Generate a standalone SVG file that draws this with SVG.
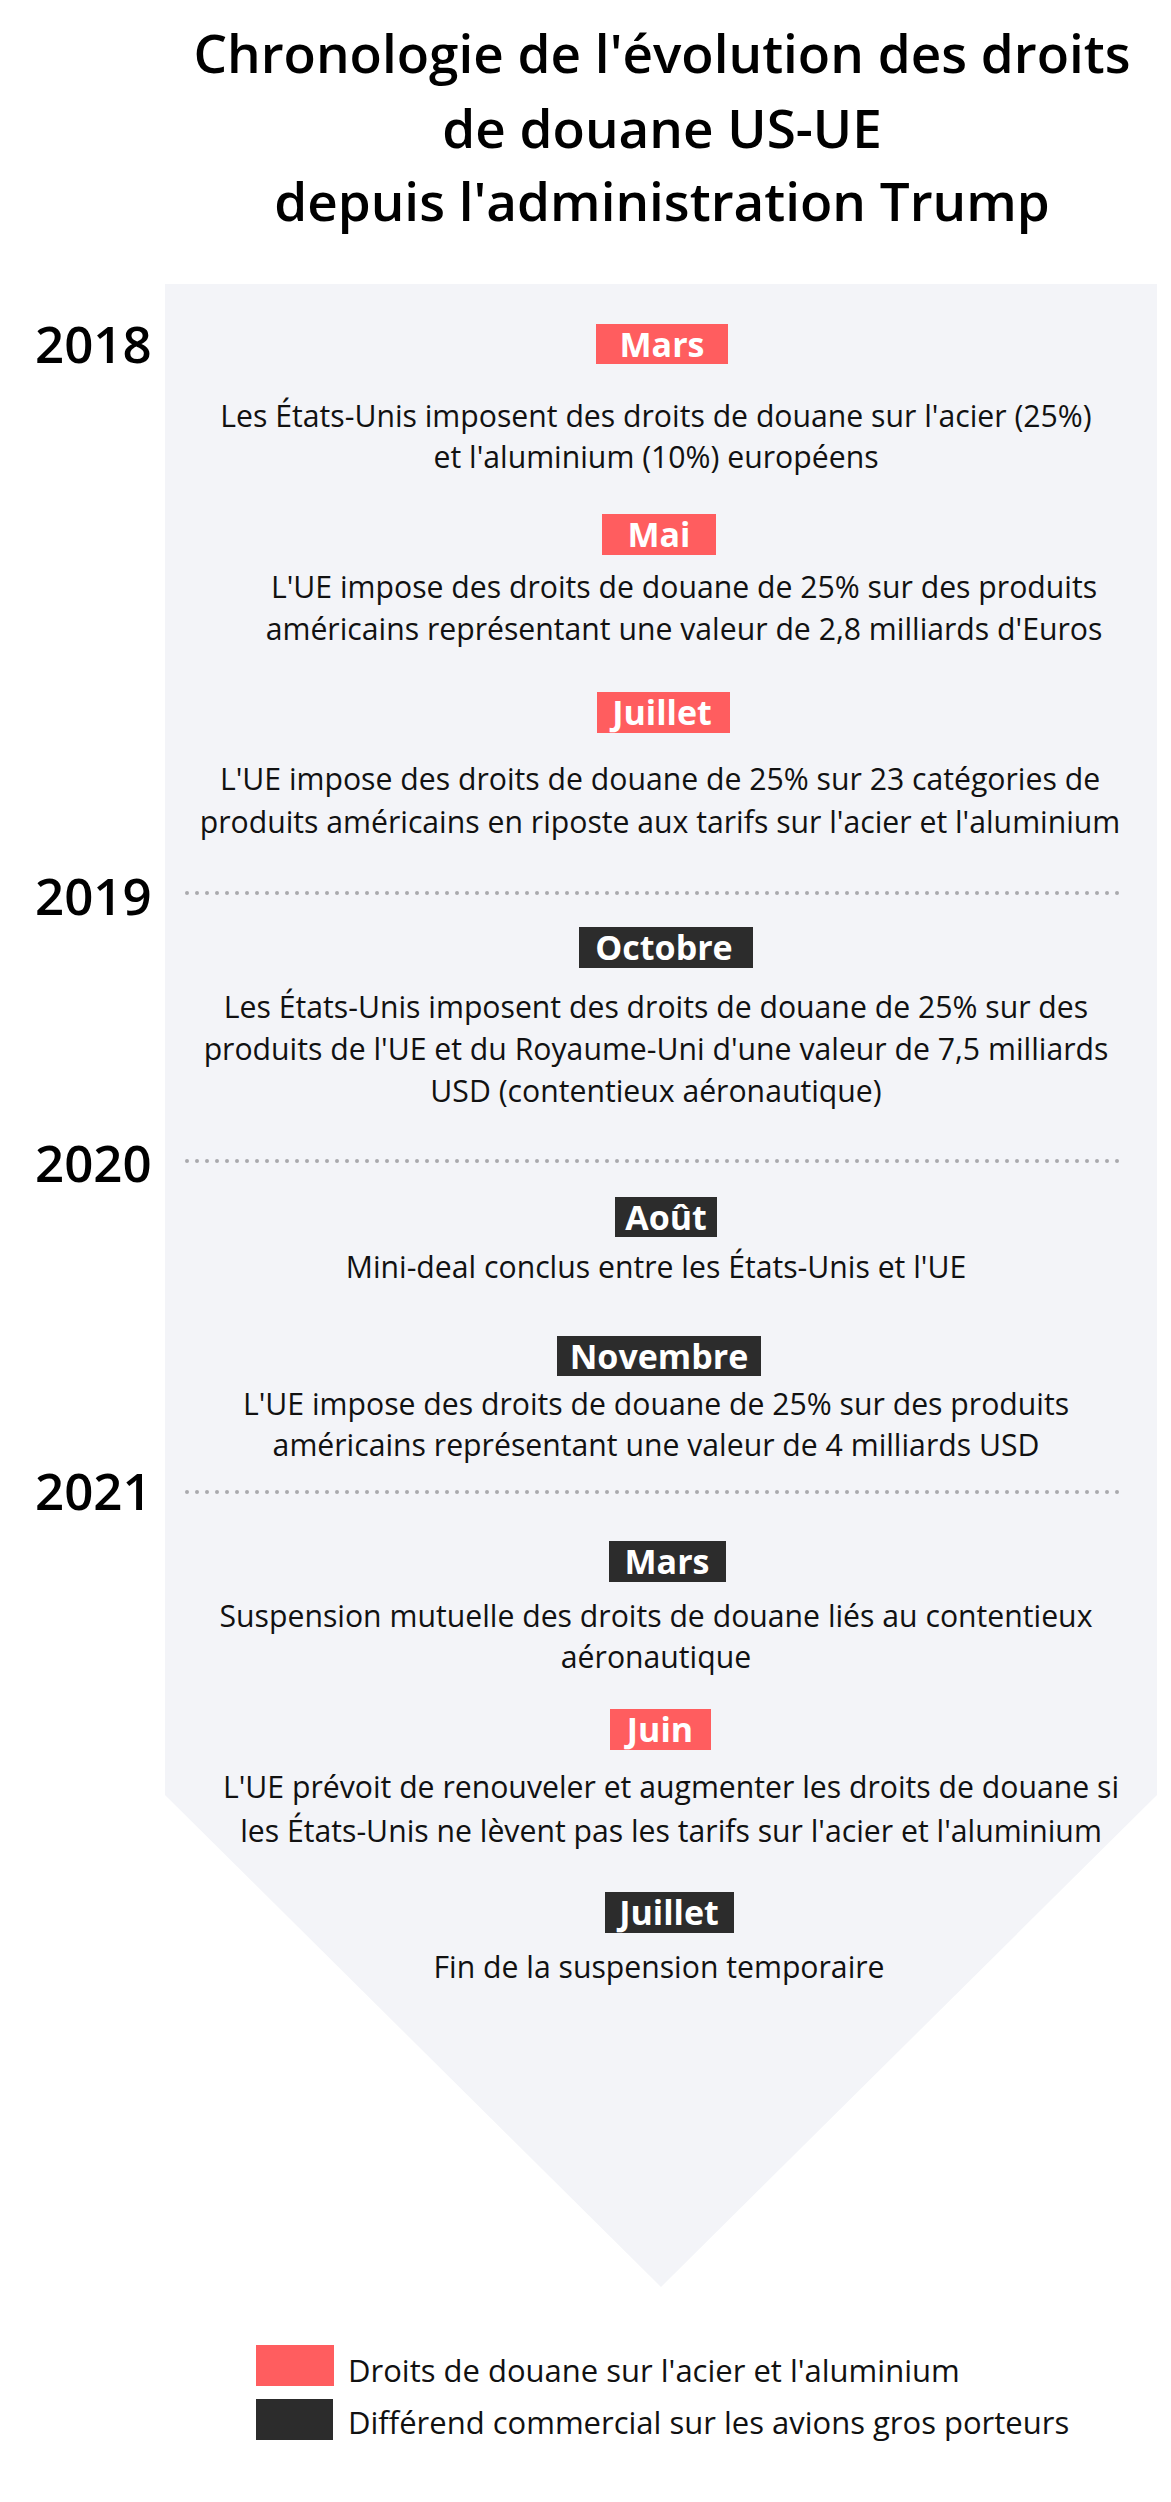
<svg xmlns="http://www.w3.org/2000/svg" width="1171" height="2502" viewBox="0 0 1171 2502">
<style>
.title{font-family:"Open Sans","Liberation Sans",sans-serif;font-weight:600;font-size:53px;fill:#000;text-anchor:middle}
.year{font-family:"Open Sans","Liberation Sans",sans-serif;font-weight:600;font-size:51px;fill:#000}
.desc{font-family:"Open Sans","Liberation Sans",sans-serif;font-weight:400;font-size:30.2px;fill:#111;text-anchor:middle}
.badge-t{font-family:"Open Sans","Liberation Sans",sans-serif;font-weight:700;font-size:34px;fill:#fff;text-anchor:middle}
.red{fill:#FF5D5F}
.dark{fill:#2C2C2C}
.dots{stroke:#A9A9AD;stroke-width:4;stroke-linecap:round;stroke-dasharray:0 10;fill:none}
.leg{font-family:"Open Sans","Liberation Sans",sans-serif;font-weight:400;font-size:31px;fill:#111}
</style>
<rect width="1171" height="2502" fill="#fff"/>
<g id="title">
<text class="title" x="662" y="73">Chronologie de l'évolution des droits</text>
<text class="title" x="662" y="148">de douane US-UE</text>
<text class="title" x="662" y="221">depuis l'administration Trump</text>
</g>
<g id="background">
<path d="M165 284 H1157 V1795 L661 2287 L165 1795 Z" fill="#F3F4F8"/>
</g>
<g id="years">
<text class="year" x="35" y="363">2018</text>
<text class="year" x="35" y="915">2019</text>
<text class="year" x="35" y="1182">2020</text>
<text class="year" x="35" y="1510">2021</text>
</g>
<g id="connectors">
<line class="dots" x1="187" y1="893" x2="1120" y2="893"/>
<line class="dots" x1="187" y1="1161" x2="1120" y2="1161"/>
<line class="dots" x1="187" y1="1492" x2="1120" y2="1492"/>
</g>
<g id="e2018-mars">
<rect class="red" x="596" y="324" width="132" height="40"/>
<text class="badge-t" x="662" y="357">Mars</text>
<text class="desc" x="656" y="427">Les États-Unis imposent des droits de douane sur l'acier (25%)</text>
<text class="desc" x="656" y="468">et l'aluminium (10%) européens</text>
</g>
<g id="e2018-mai">
<rect class="red" x="602" y="514" width="114" height="41"/>
<text class="badge-t" x="659" y="547">Mai</text>
<text class="desc" x="684" y="598">L'UE impose des droits de douane de 25% sur des produits</text>
<text class="desc" x="684" y="640">américains représentant une valeur de 2,8 milliards d'Euros</text>
</g>
<g id="e2018-juillet">
<rect class="red" x="597" y="692" width="133" height="41"/>
<text class="badge-t" x="662" y="725">Juillet</text>
<text class="desc" x="660" y="790">L'UE impose des droits de douane de 25% sur 23 catégories de</text>
<text class="desc" x="660" y="833">produits américains en riposte aux tarifs sur l'acier et l'aluminium</text>
</g>
<g id="e2019-octobre">
<rect class="dark" x="579" y="927" width="174" height="41"/>
<text class="badge-t" x="664" y="960">Octobre</text>
<text class="desc" x="656" y="1018">Les États-Unis imposent des droits de douane de 25% sur des</text>
<text class="desc" x="656" y="1060">produits de l'UE et du Royaume-Uni d'une valeur de 7,5 milliards</text>
<text class="desc" x="656" y="1102">USD (contentieux aéronautique)</text>
</g>
<g id="e2020-aout">
<rect class="dark" x="615" y="1197" width="102" height="40"/>
<text class="badge-t" x="666" y="1230">Août</text>
<text class="desc" x="656" y="1278">Mini-deal conclus entre les États-Unis et l'UE</text>
</g>
<g id="e2020-novembre">
<rect class="dark" x="557" y="1336" width="204" height="40"/>
<text class="badge-t" x="659" y="1369">Novembre</text>
<text class="desc" x="656" y="1415">L'UE impose des droits de douane de 25% sur des produits</text>
<text class="desc" x="656" y="1456">américains représentant une valeur de 4 milliards USD</text>
</g>
<g id="e2021-mars">
<rect class="dark" x="609" y="1541" width="117" height="41"/>
<text class="badge-t" x="667" y="1574">Mars</text>
<text class="desc" x="656" y="1627">Suspension mutuelle des droits de douane liés au contentieux</text>
<text class="desc" x="656" y="1668">aéronautique</text>
</g>
<g id="e2021-juin">
<rect class="red" x="610" y="1709" width="101" height="41"/>
<text class="badge-t" x="660" y="1742">Juin</text>
<text class="desc" x="671" y="1798">L'UE prévoit de renouveler et augmenter les droits de douane si</text>
<text class="desc" x="671" y="1842">les États-Unis ne lèvent pas les tarifs sur l'acier et l'aluminium</text>
</g>
<g id="e2021-juillet">
<rect class="dark" x="605" y="1892" width="129" height="41"/>
<text class="badge-t" x="669" y="1925">Juillet</text>
<text class="desc" x="659" y="1978">Fin de la suspension temporaire</text>
</g>
<g id="legend">
<rect class="red" x="256" y="2345" width="78" height="41"/>
<text class="leg" x="348" y="2382">Droits de douane sur l'acier et l'aluminium</text>
<rect class="dark" x="256" y="2399" width="77" height="41"/>
<text class="leg" x="348" y="2434">Différend commercial sur les avions gros porteurs</text>
</g>
</svg>
